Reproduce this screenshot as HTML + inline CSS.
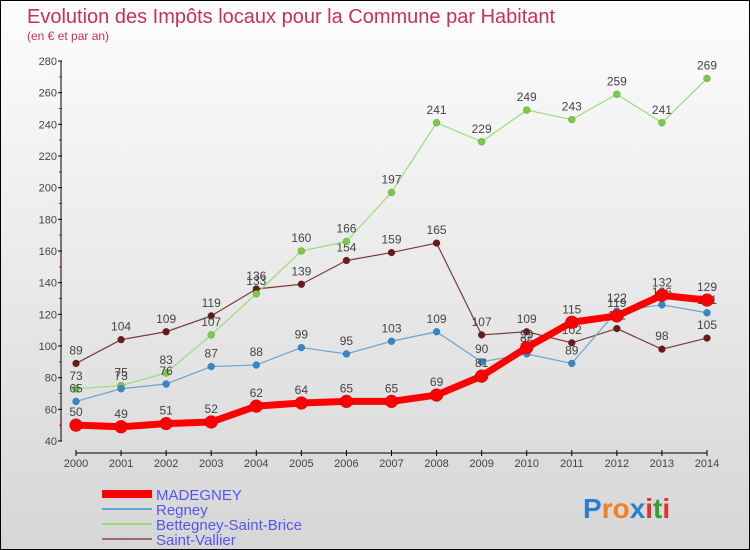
<!DOCTYPE html>
<html><head><meta charset="utf-8"><style>
body{margin:0}
#c{width:750px;height:550px;position:relative;box-sizing:border-box;border:1px solid #000;background:linear-gradient(#fdfdfd,#d6d6d6);font-family:"Liberation Sans",sans-serif;overflow:hidden}
</style></head><body>
<div id="c">
<svg id="s" width="750" height="550" style="position:absolute;left:0;top:0">
<text x="26" y="22" font-size="20" fill="#c8305a">Evolution des Impôts locaux pour la Commune par Habitant</text>
<text x="26" y="39" font-size="12" fill="#c8305a">(en € et par an)</text>
<g id="axes"></g><g id="series"></g>
<g>
<line x1="101" y1="493" x2="151" y2="493" stroke="#f00" stroke-width="8"/>
<text x="155" y="499" font-size="15" fill="#5555ee">MADEGNEY</text>
<line x1="101" y1="508" x2="151" y2="508" stroke="#6aa2d0" stroke-width="2"/>
<text x="155" y="514" font-size="15" fill="#5555ee">Regney</text>
<line x1="101" y1="523" x2="151" y2="523" stroke="#99dd77" stroke-width="2"/>
<text x="155" y="529" font-size="15" fill="#5555ee">Bettegney-Saint-Brice</text>
<line x1="101" y1="538" x2="151" y2="538" stroke="#9a6868" stroke-width="2"/>
<text x="155" y="544" font-size="15" fill="#5555ee">Saint-Vallier</text>
</g>
<g font-size="28" font-weight="bold" font-family="'Liberation Sans',sans-serif">
<text x="582" y="517"><tspan fill="#2a7fd0">P</tspan><tspan fill="#f08020">ro</tspan><tspan fill="#2a7fd0">x</tspan><tspan fill="#e03030">i</tspan><tspan fill="#30a030">t</tspan><tspan fill="#e03030">i</tspan></text>
</g>
</svg>
</div>
<script>
const years=[2000,2001,2002,2003,2004,2005,2006,2007,2008,2009,2010,2011,2012,2013,2014];
const yTicks=[40,60,80,100,120,140,160,180,200,220,240,260,280];
const madegney=[50,49,51,52,62,64,65,65,69,81,99,115,119,132,129];
const regney=[65,73,76,87,88,99,95,103,109,90,95,89,122,126,121];
const bettegney=[73,75,83,107,133,160,166,197,241,229,249,243,259,241,269];
const saintVallier=[89,104,109,119,136,139,154,159,165,107,109,102,111,98,105];
const NS="http://www.w3.org/2000/svg";
function xS(i){return 75+i*(706-75)/(years.length-1);}
function yS(v){return 440-(v-40)*(380/240);}
function mk(t,a,p){const e=document.createElementNS(NS,t);for(const k in a)e.setAttribute(k,a[k]);p.appendChild(e);return e;}
const ax=document.getElementById('axes');
let l=mk('line',{x1:60,y1:yS(280),x2:60,y2:440,stroke:'#000','stroke-width':1},ax);


l=mk('line',{x1:75,y1:452,x2:706,y2:452,stroke:'#000','stroke-width':1},ax);


yTicks.forEach(v=>{
  mk('line',{x1:57,y1:yS(v),x2:61,y2:yS(v),stroke:'#000'},ax);
  if(v<280)mk('line',{x1:58,y1:yS(v+10),x2:61,y2:yS(v+10),stroke:'#f00'},ax);
  const t=mk('text',{x:56,y:yS(v)+4,'text-anchor':'end','font-size':11,fill:'#444'},ax);
  t.textContent=v;
  
  
});
years.forEach((y,i)=>{
  mk('line',{x1:xS(i),y1:449,x2:xS(i),y2:455,stroke:'#000'},ax);
  const t=mk('text',{x:xS(i),y:466,'text-anchor':'middle','font-size':11,fill:'#444'},ax);
  t.textContent=y;
  
  
});
const sg=document.getElementById('series');
function draw(data,name,color,w,r,dot){
  const g=mk('g',{},sg);
  
  
  mk('polyline',{points:data.map((v,i)=>xS(i)+','+yS(v)).join(' '),fill:'none',stroke:color,'stroke-width':w,'stroke-linejoin':'round'},g);
  data.forEach((v,i)=>{
    const c=mk('circle',{cx:xS(i),cy:yS(v),r:r,fill:dot,stroke:'rgba(0,0,0,0.3)','stroke-width':0.5},g);
    
    
    const t=mk('text',{x:xS(i),y:yS(v)-9,'text-anchor':'middle','font-size':12,fill:'#444'},g);
    t.textContent=v;
    
    
  });
}
draw(saintVallier,'saint-vallier-series','#7a3a3a',1.2,3.5,'#6a1a1a');
draw(bettegney,'bettegney-series','#99dd77',1.2,3.5,'#77cc44');
draw(regney,'regney-series','#6aa2d0',1.2,3.5,'#3388cc');
draw(madegney,'madegney-series','#f00',7,6.5,'#f00');
</script>
</body></html>
